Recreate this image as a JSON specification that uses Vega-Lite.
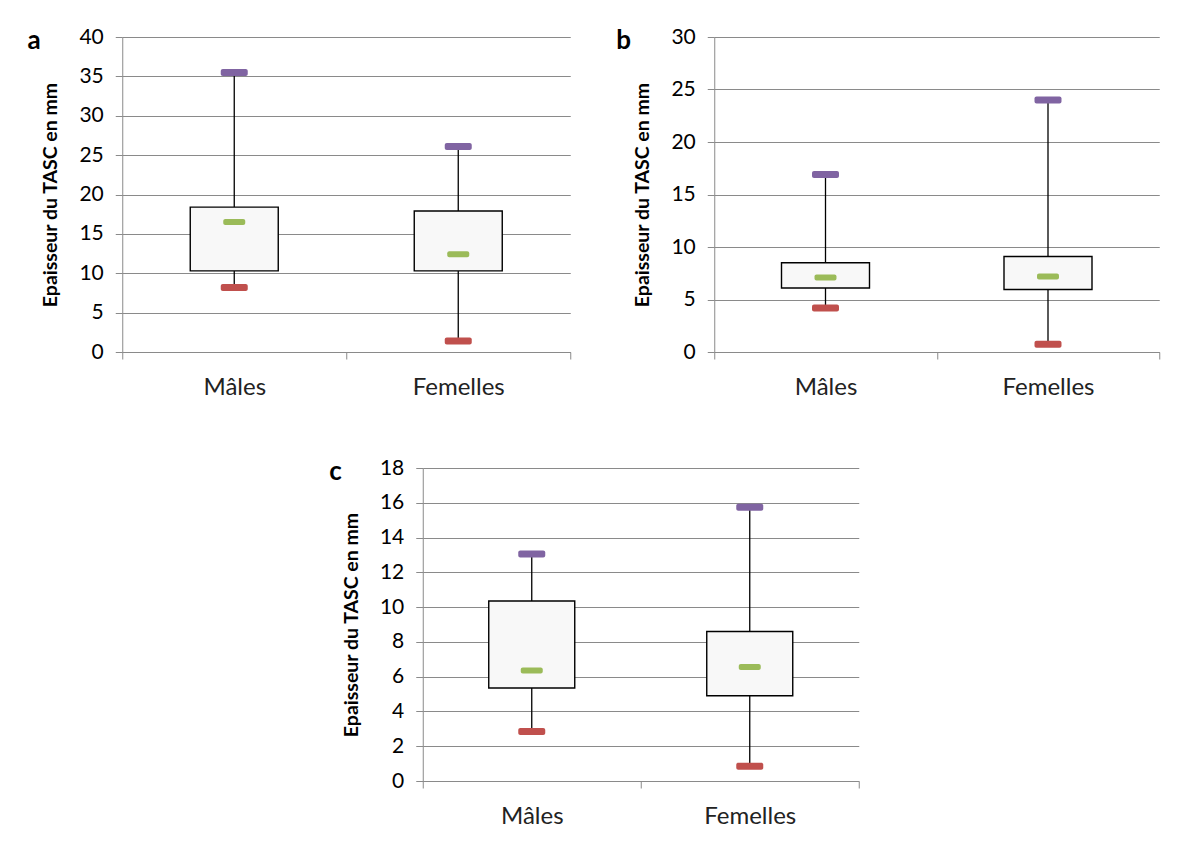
{
  "$schema": "https://vega.github.io/schema/vega-lite/v6.json",
  "background": "white",
  "padding": {"left": 27, "top": 26, "right": 5, "bottom": 5},
  "config": {
    "font": "Lato",
    "view": {"stroke": null},
    "axis": {"gridColor": "#8a8a8a", "gridWidth": 1, "domainColor": "#8a8a8a", "tickColor": "#8a8a8a", "labelColor": "#000000", "titleColor": "#000000", "labelOverlap": false},
    "axisY": {"labelFontSize": 21, "tickSize": 7, "labelPadding": 12, "titleFontSize": 19.5, "titleFontWeight": "bold", "titlePadding": 18},
    "axisX": {"labelFontSize": 24, "tickSize": 7, "labelPadding": 16, "labelAngle": 0, "grid": false, "tickBand": "extent", "labelColor": "#222222"},
    "title": {"fontSize": 26, "fontWeight": "bold", "color": "#000000"}
  },
  "datasets": {
    "a": [
      {"sexe": "Mâles", "min": 8.2, "q1": 10.3, "mediane": 16.5, "q3": 18.4, "max": 35.5},
      {"sexe": "Femelles", "min": 1.4, "q1": 10.3, "mediane": 12.4, "q3": 17.9, "max": 26.1}
    ],
    "b": [
      {"sexe": "Mâles", "min": 4.2, "q1": 6.1, "mediane": 7.1, "q3": 8.5, "max": 16.9},
      {"sexe": "Femelles", "min": 0.75, "q1": 5.95, "mediane": 7.2, "q3": 9.1, "max": 24.0}
    ],
    "c": [
      {"sexe": "Mâles", "min": 2.85, "q1": 5.35, "mediane": 6.35, "q3": 10.35, "max": 13.05},
      {"sexe": "Femelles", "min": 0.85, "q1": 4.9, "mediane": 6.55, "q3": 8.6, "max": 15.75}
    ]
  },
  "vconcat": [
    {
      "hconcat": [
        {
          "title": {"text": "a", "orient": "left", "anchor": "end", "angle": 0, "offset": -13, "dy": 2},
          "data": {"name": "a"},
          "width": 448,
          "height": 315,
          "encoding": {
            "x": {"field": "sexe", "type": "nominal", "sort": ["Mâles", "Femelles"], "scale": {"paddingInner": 0, "paddingOuter": 0}, "axis": {"title": null}}
          },
          "layer": [
            {"mark": {"type": "rule", "color": "#000000", "strokeWidth": 1.3},
             "encoding": {"y": {"field": "min", "type": "quantitative", "scale": {"domain": [0, 40]}, "axis": {"values": [0, 5, 10, 15, 20, 25, 30, 35, 40], "title": "Epaisseur du TASC en mm"}}, "y2": {"field": "max"}}},
            {"mark": {"type": "bar", "size": 88, "fill": "#f8f8f8", "stroke": "#000000", "strokeWidth": 1.4},
             "encoding": {"y": {"field": "q1", "type": "quantitative", "scale": {"domain": [0, 40]}, "axis": {"values": [0, 5, 10, 15, 20, 25, 30, 35, 40], "title": "Epaisseur du TASC en mm"}}, "y2": {"field": "q3"}}},
            {"mark": {"type": "tick", "size": 27, "thickness": 7, "cornerRadius": 2, "color": "#8064a2", "opacity": 1},
             "encoding": {"y": {"field": "max", "type": "quantitative", "scale": {"domain": [0, 40]}, "axis": {"values": [0, 5, 10, 15, 20, 25, 30, 35, 40], "title": "Epaisseur du TASC en mm"}}}},
            {"mark": {"type": "tick", "size": 27, "thickness": 7, "cornerRadius": 2, "color": "#c0504d", "opacity": 1},
             "encoding": {"y": {"field": "min", "type": "quantitative", "scale": {"domain": [0, 40]}, "axis": {"values": [0, 5, 10, 15, 20, 25, 30, 35, 40], "title": "Epaisseur du TASC en mm"}}}},
            {"mark": {"type": "tick", "size": 22, "thickness": 6, "cornerRadius": 2, "color": "#9bbb59", "opacity": 1},
             "encoding": {"y": {"field": "mediane", "type": "quantitative", "scale": {"domain": [0, 40]}, "axis": {"values": [0, 5, 10, 15, 20, 25, 30, 35, 40], "title": "Epaisseur du TASC en mm"}}}}
          ]
        },
        {
          "title": {"text": "b", "orient": "left", "anchor": "end", "angle": 0, "offset": -13, "dy": 2},
          "data": {"name": "b"},
          "width": 445,
          "height": 315,
          "encoding": {
            "x": {"field": "sexe", "type": "nominal", "sort": ["Mâles", "Femelles"], "scale": {"paddingInner": 0, "paddingOuter": 0}, "axis": {"title": null}}
          },
          "layer": [
            {"mark": {"type": "rule", "color": "#000000", "strokeWidth": 1.3},
             "encoding": {"y": {"field": "min", "type": "quantitative", "scale": {"domain": [0, 30]}, "axis": {"values": [0, 5, 10, 15, 20, 25, 30], "title": "Epaisseur du TASC en mm"}}, "y2": {"field": "max"}}},
            {"mark": {"type": "bar", "size": 88, "fill": "#f8f8f8", "stroke": "#000000", "strokeWidth": 1.4},
             "encoding": {"y": {"field": "q1", "type": "quantitative", "scale": {"domain": [0, 30]}, "axis": {"values": [0, 5, 10, 15, 20, 25, 30], "title": "Epaisseur du TASC en mm"}}, "y2": {"field": "q3"}}},
            {"mark": {"type": "tick", "size": 27, "thickness": 7, "cornerRadius": 2, "color": "#8064a2", "opacity": 1},
             "encoding": {"y": {"field": "max", "type": "quantitative", "scale": {"domain": [0, 30]}, "axis": {"values": [0, 5, 10, 15, 20, 25, 30], "title": "Epaisseur du TASC en mm"}}}},
            {"mark": {"type": "tick", "size": 27, "thickness": 7, "cornerRadius": 2, "color": "#c0504d", "opacity": 1},
             "encoding": {"y": {"field": "min", "type": "quantitative", "scale": {"domain": [0, 30]}, "axis": {"values": [0, 5, 10, 15, 20, 25, 30], "title": "Epaisseur du TASC en mm"}}}},
            {"mark": {"type": "tick", "size": 22, "thickness": 6, "cornerRadius": 2, "color": "#9bbb59", "opacity": 1},
             "encoding": {"y": {"field": "mediane", "type": "quantitative", "scale": {"domain": [0, 30]}, "axis": {"values": [0, 5, 10, 15, 20, 25, 30], "title": "Epaisseur du TASC en mm"}}}}
          ]
        }
      ],
      "spacing": 45
    },
    {
      "title": {"text": "c", "orient": "left", "anchor": "end", "angle": 0, "offset": -13, "dy": 2},
      "data": {"name": "c"},
      "width": 436,
      "height": 313,
      "encoding": {
        "x": {"field": "sexe", "type": "nominal", "sort": ["Mâles", "Femelles"], "scale": {"paddingInner": 0, "paddingOuter": 0}, "axis": {"title": null}}
      },
      "layer": [
        {"mark": {"type": "rule", "color": "#000000", "strokeWidth": 1.3},
         "encoding": {"y": {"field": "min", "type": "quantitative", "scale": {"domain": [0, 18]}, "axis": {"values": [0, 2, 4, 6, 8, 10, 12, 14, 16, 18], "title": "Epaisseur du TASC en mm"}}, "y2": {"field": "max"}}},
        {"mark": {"type": "bar", "size": 86, "fill": "#f8f8f8", "stroke": "#000000", "strokeWidth": 1.4},
         "encoding": {"y": {"field": "q1", "type": "quantitative", "scale": {"domain": [0, 18]}, "axis": {"values": [0, 2, 4, 6, 8, 10, 12, 14, 16, 18], "title": "Epaisseur du TASC en mm"}}, "y2": {"field": "q3"}}},
        {"mark": {"type": "tick", "size": 27, "thickness": 7, "cornerRadius": 2, "color": "#8064a2", "opacity": 1},
         "encoding": {"y": {"field": "max", "type": "quantitative", "scale": {"domain": [0, 18]}, "axis": {"values": [0, 2, 4, 6, 8, 10, 12, 14, 16, 18], "title": "Epaisseur du TASC en mm"}}}},
        {"mark": {"type": "tick", "size": 27, "thickness": 7, "cornerRadius": 2, "color": "#c0504d", "opacity": 1},
         "encoding": {"y": {"field": "min", "type": "quantitative", "scale": {"domain": [0, 18]}, "axis": {"values": [0, 2, 4, 6, 8, 10, 12, 14, 16, 18], "title": "Epaisseur du TASC en mm"}}}},
        {"mark": {"type": "tick", "size": 22, "thickness": 6, "cornerRadius": 2, "color": "#9bbb59", "opacity": 1},
         "encoding": {"y": {"field": "mediane", "type": "quantitative", "scale": {"domain": [0, 18]}, "axis": {"values": [0, 2, 4, 6, 8, 10, 12, 14, 16, 18], "title": "Epaisseur du TASC en mm"}}}}
      ]
    }
  ],
  "spacing": 58,
  "center": true
}
